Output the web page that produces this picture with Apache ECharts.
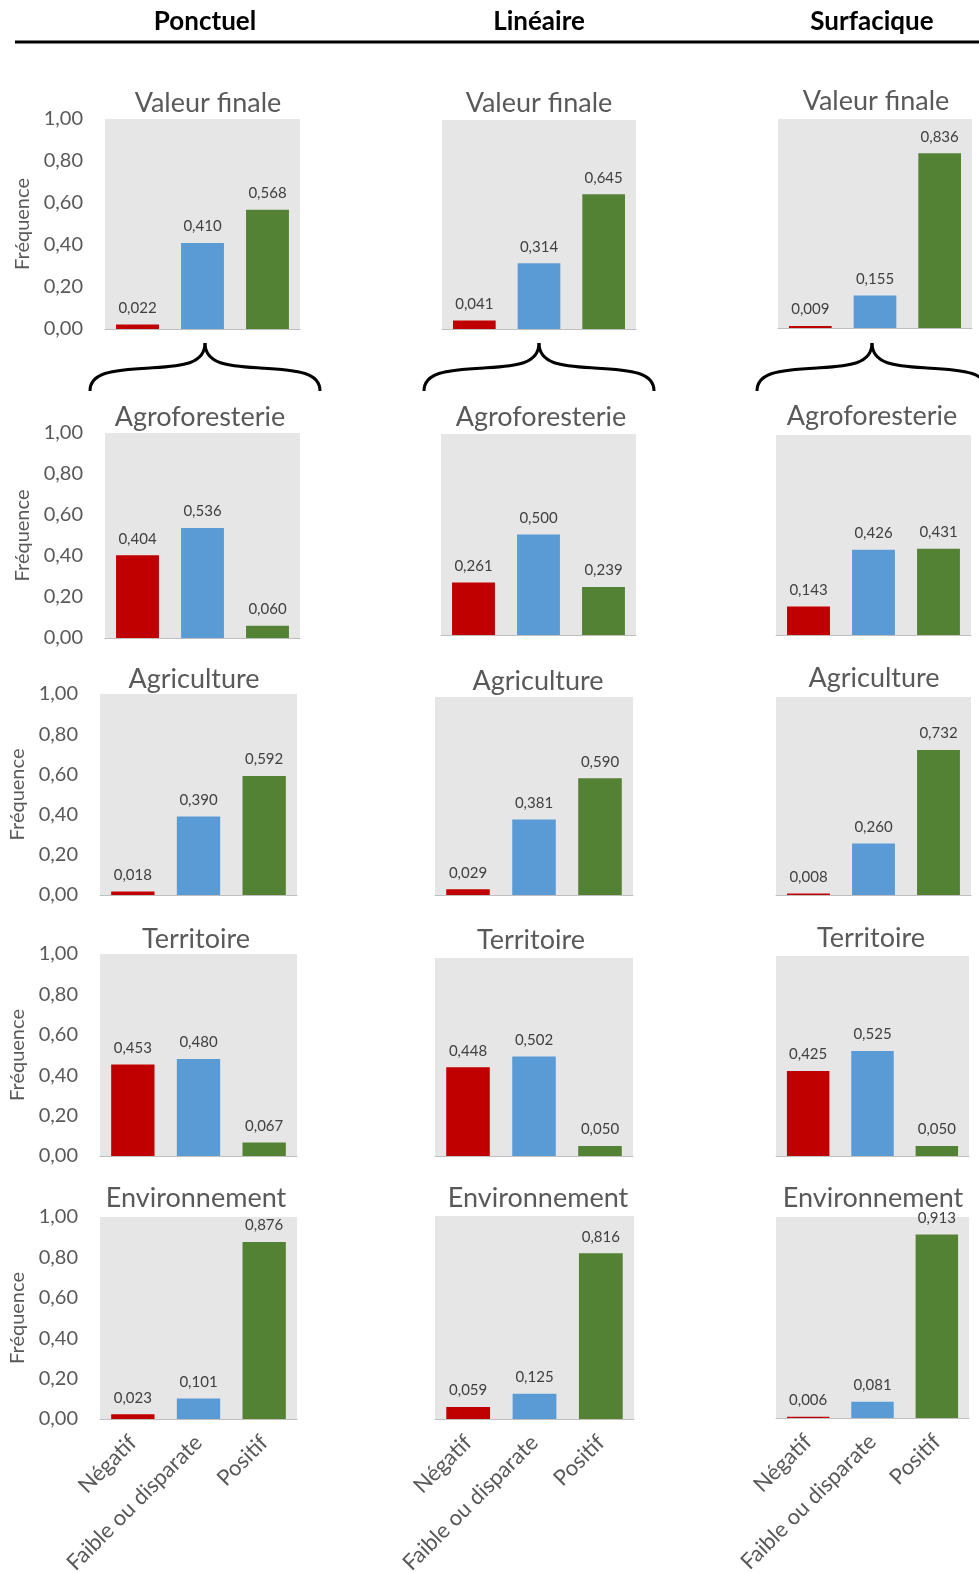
<!DOCTYPE html>
<html>
<head>
<meta charset="utf-8">
<script src="https://cdn.jsdelivr.net/npm/echarts@6/dist/echarts.min.js"></script>
<style>
  html, body { margin: 0; padding: 0; background: #fff; }
  #chart { width: 979px; height: 1573px; }
</style>
</head>
<body>
<div id="chart"></div>
<script>
// axe x et libellés
var categories = ['Négatif', 'Faible ou disparate', 'Positif'];
var columnNames = ['Ponctuel', 'Linéaire', 'Surfacique'];
var panelNames = ['Valeur finale', 'Agroforesterie', 'Agriculture', 'Territoire', 'Environnement'];
var yAxisName = 'Fréquence';

// fréquences : [Ponctuel, Linéaire, Surfacique], chaque triplet = categories
var valeurFinale   = [[0.022, 0.410, 0.568], [0.041, 0.314, 0.645], [0.009, 0.155, 0.836]];
var agroforesterie = [[0.404, 0.536, 0.060], [0.261, 0.500, 0.239], [0.143, 0.426, 0.431]];
var agriculture    = [[0.018, 0.390, 0.592], [0.029, 0.381, 0.590], [0.008, 0.260, 0.732]];
var territoire     = [[0.453, 0.480, 0.067], [0.448, 0.502, 0.050], [0.425, 0.525, 0.050]];
var environnement  = [[0.023, 0.101, 0.876], [0.059, 0.125, 0.816], [0.006, 0.081, 0.913]];

var rows = [valeurFinale, agroforesterie, agriculture, territoire, environnement];

var barColors = ['#c00000', '#5b9bd5', '#548235'];
var txtGray = '#595959';
var font = 'Lato';

// zones de tracé [left, top, width, height]
var boxes = [
  [[105, 119, 195, 210], [442, 120, 194, 209], [778, 119, 194, 209]],
  [[105, 433, 195, 205], [441, 434, 195, 201], [776, 435, 195, 200]],
  [[100, 694, 197, 201], [435, 697, 198, 198], [776, 697, 195, 198]],
  [[100, 954, 197, 202], [435, 958, 198, 198], [776, 956, 193, 200]],
  [[100, 1217, 197, 202], [435, 1216, 199, 203], [776, 1217, 193, 201]]
];
// centre des titres [x, y]
var titlePos = [
  [[208, 103], [539, 103], [876, 101]],
  [[200, 417], [541, 417], [872, 416]],
  [[194, 679], [538, 681], [874, 678]],
  [[196, 939], [531, 940], [871, 938]],
  [[196, 1198], [538, 1198], [873, 1198]]
];
var headerX = [205, 539, 872];
var braceX = [205, 539, 872];

function fmt(v, d) { return v.toFixed(d).replace('.', ','); }

var grids = [], xAxes = [], yAxes = [], series = [], titles = [];
rows.forEach(function (row, r) {
  row.forEach(function (vals, c) {
    var idx = grids.length;
    var b = boxes[r][c];
    grids.push({
      left: b[0], top: b[1], width: b[2], height: b[3],
      containLabel: false, outerBoundsMode: 'none',
      show: true, backgroundColor: '#e6e6e6', borderWidth: 0
    });
    xAxes.push({
      type: 'category', gridIndex: idx, data: categories,
      axisLine: { lineStyle: { color: '#bfbfbf', width: 1 } },
      axisTick: { show: false },
      axisLabel: {
        show: r === rows.length - 1, rotate: 45, interval: 0, margin: 20,
        fontSize: 22, fontFamily: font, color: txtGray
      }
    });
    yAxes.push({
      type: 'value', gridIndex: idx, min: 0, max: 1, interval: 0.2,
      name: c === 0 ? yAxisName : '',
      nameLocation: 'middle', nameRotate: 90, nameGap: 72,
      nameTextStyle: { fontSize: 20, fontFamily: font, color: txtGray },
      axisLine: { show: false },
      axisTick: { show: false },
      splitLine: { show: false },
      axisLabel: {
        show: c === 0, margin: 22, fontSize: 20, fontFamily: font, color: txtGray,
        formatter: function (v) { return fmt(v, 2); }
      }
    });
    series.push({
      type: 'bar', xAxisIndex: idx, yAxisIndex: idx,
      barCategoryGap: '34%',
      data: vals.map(function (v, i) {
        return { value: v, itemStyle: { color: barColors[i] } };
      }),
      label: {
        show: true, position: 'top', distance: 9,
        fontSize: 15, fontFamily: font, color: '#404040',
        formatter: function (p) { return fmt(p.value, 3); }
      }
    });
    titles.push({
      text: panelNames[r], left: titlePos[r][c][0], top: titlePos[r][c][1],
      textAlign: 'center', textVerticalAlign: 'middle', padding: 0,
      textStyle: { fontSize: 27, fontWeight: 'normal', fontFamily: font, color: txtGray }
    });
  });
});

// accolades sous "Valeur finale" : 2 courbes de Bézier par côté
function braceParts(cx, hw) {
  var y0 = 343, yE = 391, parts = [];
  [-1, 1].forEach(function (s) {
    parts.push({ x1: cx, y1: y0, cpx1: cx, cpy1: y0 + 22, cpx2: cx + s * 25, cpy2: y0 + 23,
      x2: cx + s * 55, y2: y0 + 25 });
    parts.push({ x1: cx + s * 55, y1: y0 + 25, cpx1: cx + s * 95, cpy1: y0 + 27,
      cpx2: cx + s * hw, cpy2: y0 + 30, x2: cx + s * hw, y2: yE });
  });
  return parts;
}

var graphics = [
  { type: 'line', shape: { x1: 15, y1: 42, x2: 979, y2: 42 }, style: { stroke: '#000', lineWidth: 3 } }
];
columnNames.forEach(function (name, c) {
  graphics.push({
    type: 'text', x: headerX[c], y: 22,
    style: { text: name, textAlign: 'center', textVerticalAlign: 'middle',
      font: 'bold 26px Lato', fill: '#000' }
  });
  braceParts(braceX[c], 115).forEach(function (sh) {
    graphics.push({
      type: 'bezierCurve', shape: sh,
      style: { stroke: '#000', lineWidth: 3, fill: null }
    });
  });
});

var chart = echarts.init(document.getElementById('chart'));
chart.setOption({
  animation: false,
  backgroundColor: '#fff',
  title: titles,
  grid: grids,
  xAxis: xAxes,
  yAxis: yAxes,
  series: series,
  graphic: graphics
});
</script>
</body>
</html>
